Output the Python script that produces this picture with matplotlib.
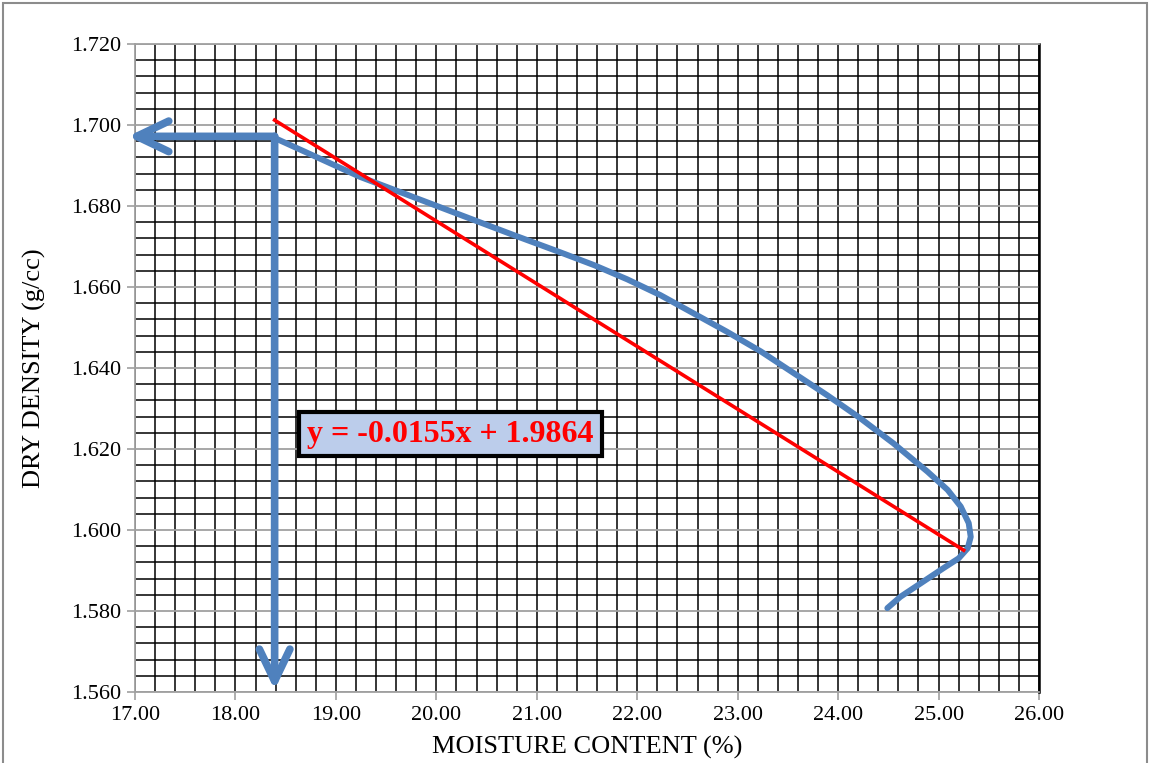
import matplotlib
matplotlib.use('Agg')
from matplotlib import pyplot as plt
from matplotlib.patches import Rectangle
from matplotlib.ticker import MultipleLocator, FormatStrFormatter

# dry density curve
moisture = [18.39, 19.24, 20.24, 20.74, 21.23, 21.57, 21.90, 22.23, 22.56, 22.89,
            23.23, 23.56, 23.89, 24.22, 24.55, 24.89, 25.09, 25.22, 25.30, 25.32,
            25.29, 25.20, 25.05, 24.82, 24.62, 24.49]
density = [1.6968, 1.6872, 1.6778, 1.6731, 1.6686, 1.6654, 1.6619, 1.6580, 1.6535, 1.6490,
           1.6441, 1.6387, 1.6333, 1.6276, 1.6214, 1.6144, 1.6099, 1.6058, 1.6017, 1.5983,
           1.5955, 1.5930, 1.5906, 1.5868, 1.5835, 1.5807]

# linear trendline
trend_x = [18.39, 25.25]
trend_y = [1.7012, 1.5950]
equation = 'y = -0.0155x + 1.9864'

# arrows from the max point to the axes
omc = 18.39
mdd = 1.6972

plt.rcParams['font.family'] = ['Liberation Serif', 'DejaVu Serif']

fig = plt.figure(figsize=(11.5, 7.63), dpi=100)
ax = fig.add_axes([0.1174, 0.0931, 0.7861, 0.8492])

ax.set_xlim(17, 26)
ax.set_ylim(1.560, 1.720)
ax.xaxis.set_major_locator(MultipleLocator(1))
ax.xaxis.set_minor_locator(MultipleLocator(0.2))
ax.yaxis.set_major_locator(MultipleLocator(0.02))
ax.yaxis.set_minor_locator(MultipleLocator(0.004))
ax.xaxis.set_major_formatter(FormatStrFormatter('%.2f'))
ax.yaxis.set_major_formatter(FormatStrFormatter('%.3f'))

ax.grid(which='minor', color='black', lw=1.1)
ax.grid(which='major', axis='x', color='black', lw=1.1)
ax.grid(which='major', axis='y', color='#a0a0a0', lw=1.3)
ax.set_axisbelow(True)

ax.tick_params(which='major', direction='out', length=6, width=1.2, color='#a0a0a0',
               labelsize=16, pad=4)
ax.tick_params(which='minor', length=0)
for s in ['left', 'bottom', 'top']:
    ax.spines[s].set_color('#a0a0a0')
    ax.spines[s].set_linewidth(1.3)
ax.spines['right'].set_color('black')
ax.spines['right'].set_linewidth(1.8)

ax.plot(moisture, density, color='#4f81bd', lw=4.3, solid_capstyle='round',
        solid_joinstyle='round', zorder=4)
ax.plot(trend_x, trend_y, color='red', lw=2.6, zorder=5)

arrow = dict(arrowstyle='->, head_length=2.3, head_width=1.1', color='#4f81bd',
             lw=5.5, shrinkA=0, shrinkB=0, mutation_scale=10,
             capstyle='round', joinstyle='round')
ax.annotate('', xy=(16.93, mdd), xytext=(omc, mdd), arrowprops=arrow,
            annotation_clip=False, zorder=6)
ax.annotate('', xy=(omc, 1.5605), xytext=(omc, mdd), arrowprops=arrow,
            annotation_clip=False, zorder=6)

ax.text(20.14, 1.6237, equation, color='red', fontsize=23, fontweight='bold',
        ha='center', va='center', zorder=7,
        bbox=dict(boxstyle='square,pad=0.25', fc='#bccdeb', ec='black', lw=3))

ax.set_xlabel('MOISTURE CONTENT (%)', fontsize=19, labelpad=8)
ax.set_ylabel('DRY DENSITY (g/cc)', fontsize=19, labelpad=18)

fig.patches.append(Rectangle((3 / 1150, -0.05), 1144 / 1150, 1.05 - 3 / 763,
                             transform=fig.transFigure, fill=False,
                             ec='#8c8c8c', lw=1.5))

fig.savefig('out.png', dpi=100)
